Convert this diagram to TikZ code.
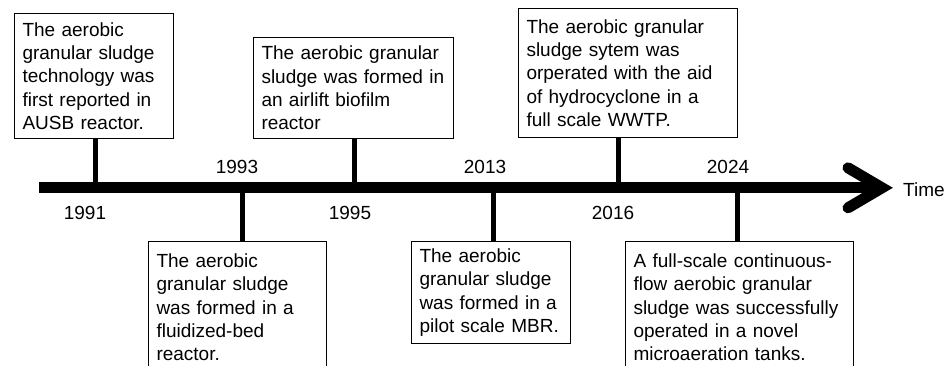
\documentclass[tikz,border=0pt]{standalone}
\usepackage{fontspec}
\setmainfont{Liberation Sans}
\usetikzlibrary{calc,positioning}
\tikzset{
  axisline/.style = {line width=11pt},
  axishead/.style = {line width=11pt, line cap=round, line join=miter},
  stem/.style     = {line width=5.5pt},
  event/.style    = {draw, line width=1pt, anchor=north west, align=left, inner sep=0pt,
                     font=\fontsize{19}{23.3}\selectfont},
  year/.style     = {font=\fontsize{19}{22}\selectfont},
}

\begin{document}
\begin{tikzpicture}[x=1pt, y=1pt]
  \useasboundingbox (0,0) rectangle (952,-365);
  % time axis
  \coordinate (axisL) at (39,-187.8);
  \coordinate (axisR) at (882,-187.8);
  \draw[axisline] (axisL) -- (axisR);
  \draw[axishead] ($(axisR)+(-34,20)$) -- (axisR) -- ($(axisR)+(-34,-20)$);
  \node[year, anchor=west, inner sep=0pt] (time) at (903,-190) {Time};

  % events above the axis
  \node[event, minimum width=159pt, minimum height=125pt, text width=143pt] (ev1991) at (14,-13)
    {The aerobic\\granular sludge\\technology was\\first reported in\\AUSB reactor.};
  \node[event, minimum width=200pt, minimum height=101pt, text width=184pt] (ev1995) at (253,-37)
    {The aerobic granular\\sludge was formed in\\an airlift biofilm\\reactor};
  \node[event, minimum width=219pt, minimum height=129pt, text width=203pt] (ev2016) at (518,-8)
    {The aerobic granular\\sludge sytem was\\orperated with the aid\\of hydrocyclone in a\\full scale WWTP.};

  % events below the axis
  \node[event, minimum width=178pt, minimum height=132pt, text width=162pt] (ev1993) at (148,-241)
    {The aerobic\\granular sludge\\was formed in a\\fluidized-bed\\reactor.};
  \node[event, minimum width=159pt, minimum height=102pt, text width=143pt] (ev2013) at (411,-241)
    {The aerobic\\granular sludge\\was formed in a\\pilot scale MBR.};
  \node[event, minimum width=228pt, minimum height=132pt, text width=212pt] (ev2024) at (625,-241)
    {A full-scale continuous-\\flow aerobic granular\\sludge was successfully\\operated in a novel\\microaeration tanks.};

  % stems
  \draw[stem] ([xshift=1.5pt]ev1991.south) -- ([xshift=1.5pt]ev1991.south |- axisL);
  \draw[stem] ([xshift=1pt]ev1995.south) -- ([xshift=1pt]ev1995.south |- axisL);
  \draw[stem] ([xshift=-9.5pt]ev2016.south) -- ([xshift=-9.5pt]ev2016.south |- axisL);
  \draw[stem] ([xshift=5pt]ev1993.north) -- ([xshift=5pt]ev1993.north |- axisL);
  \draw[stem] ([xshift=2.5pt]ev2013.north) -- ([xshift=2.5pt]ev2013.north |- axisL);
  \draw[stem] ([xshift=-2pt]ev2024.north) -- ([xshift=-2pt]ev2024.north |- axisL);

  % years
  \node[year] (y1991) at (85,-213) {1991};
  \node[year] (y1993) at (237,-167) {1993};
  \node[year] (y1995) at (350,-213) {1995};
  \node[year] (y2013) at (485,-167) {2013};
  \node[year] (y2016) at (613,-213) {2016};
  \node[year] (y2024) at (728,-167) {2024};
\end{tikzpicture}
\end{document}
